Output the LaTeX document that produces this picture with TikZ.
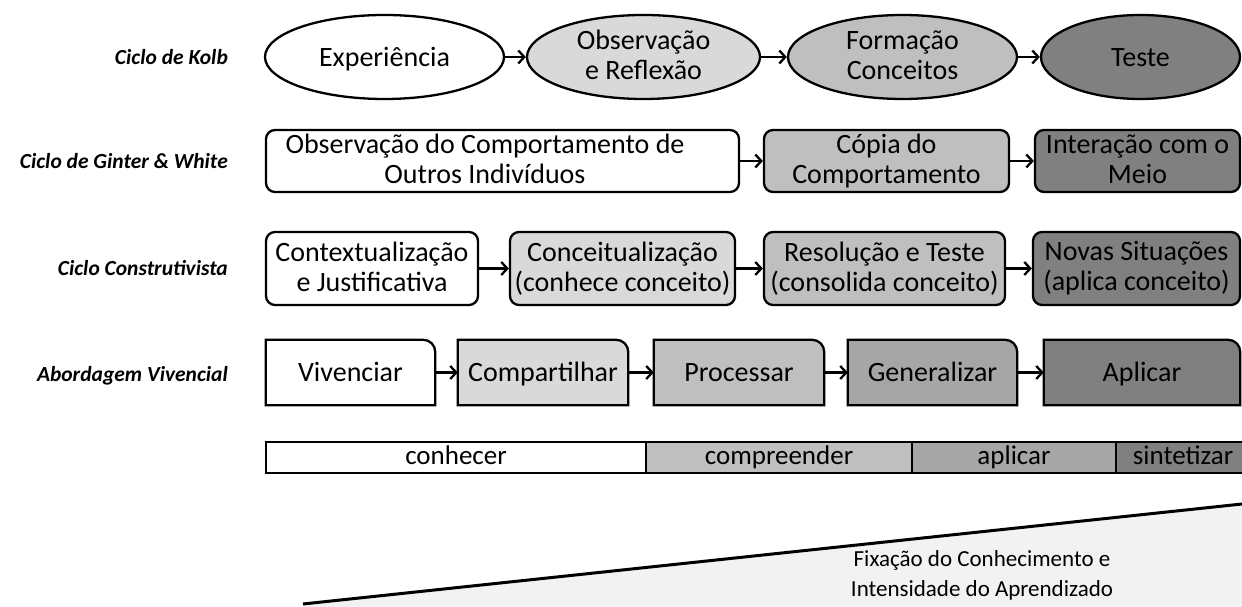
\documentclass[tikz,border=0pt]{standalone}
\usepackage{fontspec}
\setmainfont{Carlito}
\usetikzlibrary{arrows.meta,shapes.geometric,calc}
\definecolor{cA}{HTML}{D9D9D9}
\definecolor{cB}{HTML}{BFBFBF}
\definecolor{cC}{HTML}{A6A6A6}
\definecolor{cD}{HTML}{808080}
\definecolor{cT}{HTML}{F2F2F2}
\newcommand{\mystrut}{\rule[-4pt]{0pt}{27pt}}
\newcommand{\lblstrut}{\rule[-4pt]{0pt}{24pt}}
\newcommand{\barstrut}{\rule[-5pt]{0pt}{25pt}}
\tikzset{
  lbl/.style={anchor=east,font=\fontsize{21.5}{23}\selectfont\bfseries\itshape,inner sep=0pt,execute at begin node=\lblstrut},
  txt/.style={font=\fontsize{28}{30}\selectfont,align=center,inner sep=0pt,execute at begin node=\mystrut},
  ell/.style={txt,ellipse,draw,line width=2.3pt,minimum height=84pt},
  rbox/.style={txt,rectangle,rounded corners=9pt,draw,line width=2.3pt},
  vbox/.style={rectangle,inner sep=0pt,minimum height=65pt},
  bseg/.style={rectangle,draw,line width=2.3pt,minimum height=31pt,inner sep=0pt,font=\fontsize{27}{29}\selectfont,execute at begin node=\barstrut},
  arr/.style={line width=2.5pt,-{Straight Barb[length=6pt,width=13pt,line width=2.3pt]}},
  vshape/.style={draw,line width=2.3pt},
}
\newcommand{\vpath}[2]{% node name, fill colour
  \filldraw[vshape,fill=#2] (#1.south west) -- (#1.north west) -- ($(#1.north east)+(-12pt,0)$)
    arc[start angle=90,end angle=0,radius=12pt] -- (#1.south east) -- cycle;}
\newcommand{\nl}{\\\mystrut}
\begin{document}
\begin{tikzpicture}[x=1pt,y=1pt]
\path[use as bounding box] (0,0) rectangle (1242,607);
% triangle
\coordinate (t1) at (303,3);
\coordinate (t2) at (1242,103);
\coordinate (t3) at (1242,0);
\coordinate (t4) at (303,0);
\fill[cT] (t1) -- (t2) -- (t3) -- (t4) -- cycle;
\draw[line width=3pt] (t1) -- (t2);
\node[txt,font=\fontsize{23}{30}\selectfont] (fix) at (982,31) {Fixação do Conhecimento e\nl Intensidade do Aprendizado};
% labels
\node[lbl] (l1) at (228,550) {Ciclo de Kolb};
\node[lbl] (l2) at (228,446) {Ciclo de Ginter \& White};
\node[lbl] (l3) at (228,339) {Ciclo Construtivista};
\node[lbl] (l4) at (228,233) {Abordagem Vivencial};
% row 1
\node[ell,fill=white,minimum width=239pt] (k1) at (384.5,550) {Experiência};
\node[ell,fill=cA,minimum width=233pt] (k2) at (643.5,550) {Observação\nl e Reflexão};
\node[ell,fill=cB,minimum width=229pt] (k3) at (902.5,550) {Formação\nl Conceitos};
\node[ell,fill=cD,minimum width=199pt] (k4) at (1140.5,550) {Teste};
\draw[arr] (k1) -- (k2);
\draw[arr] (k2) -- (k3);
\draw[arr] (k3) -- (k4);
% row 2
\node[rbox,fill=white,minimum width=473pt,minimum height=62pt] (g1) at (502.5,446) {};
\node[txt] (g1t) at (485,446) {Observação do Comportamento de\nl Outros Indivíduos};
\node[rbox,fill=cB,minimum width=245pt,minimum height=62pt] (g2) at (886.5,446) {Cópia do\nl Comportamento};
\node[rbox,fill=cD,minimum width=205pt,minimum height=62pt] (g3) at (1137.5,446) {Interação com o\nl Meio};
\draw[arr] (g1) -- (g2);
\draw[arr] (g2) -- (g3);
% row 3
\node[rbox,fill=white,minimum width=212pt,minimum height=73pt] (c1) at (372,338.5) {Contextualização\nl e Justificativa};
\node[rbox,fill=cA,minimum width=225pt,minimum height=73pt] (c2) at (622.5,338.5) {Conceitualização\nl (conhece conceito)};
\node[rbox,fill=cB,minimum width=241pt,minimum height=73pt] (c3) at (884.5,338.5) {Resolução e Teste\nl (consolida conceito)};
\node[rbox,fill=cD,minimum width=207pt,minimum height=73pt] (c4) at (1136.5,338.5) {Novas Situações\nl (aplica conceito)};
\draw[arr] (c1) -- (c2);
\draw[arr] (c2) -- (c3);
\draw[arr] (c3) -- (c4);
% row 4
\node[vbox,minimum width=169pt] (v1) at (350.5,234.5) {};
\node[vbox,minimum width=170pt] (v2) at (543,234.5) {};
\node[vbox,minimum width=170pt] (v3) at (739,234.5) {};
\node[vbox,minimum width=169pt] (v4) at (932.5,234.5) {};
\node[vbox,minimum width=196pt] (v5) at (1142,234.5) {};
\vpath{v1}{white}\vpath{v2}{cA}\vpath{v3}{cB}\vpath{v4}{cC}\vpath{v5}{cD}
\node[txt] (v1t) at (v1) {Vivenciar};
\node[txt] (v2t) at (v2) {Compartilhar};
\node[txt] (v3t) at (v3) {Processar};
\node[txt] (v4t) at (v4) {Generalizar};
\node[txt] (v5t) at (v5) {Aplicar};
\draw[arr] (v1.east) -- (v2.west);
\draw[arr] (v2.east) -- (v3.west);
\draw[arr] (v3.east) -- (v4.west);
\draw[arr] (v4.east) -- (v5.west);
% bar
\node[bseg,fill=white,minimum width=380pt] (b1) at (456,149.5) {conhecer};
\node[bseg,fill=cB,minimum width=266pt] (b2) at (779,149.5) {compreender};
\node[bseg,fill=cC,minimum width=204pt] (b3) at (1014,149.5) {aplicar};
\node[bseg,fill=cD,minimum width=134pt] (b4) at (1183,149.5) {sintetizar};
\end{tikzpicture}
\end{document}
